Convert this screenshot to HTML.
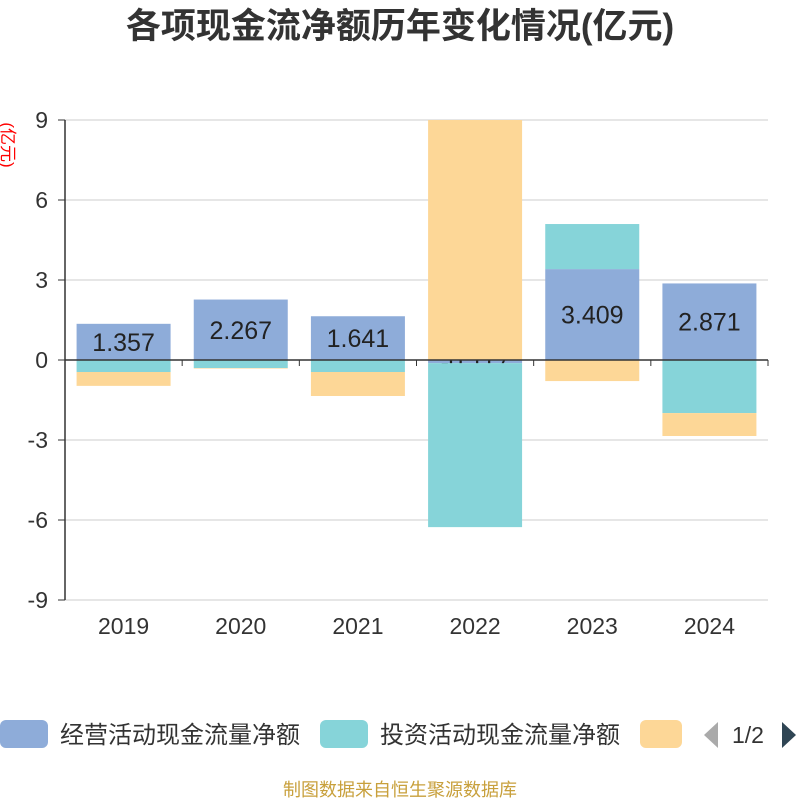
<!DOCTYPE html>
<html><head><meta charset="utf-8"><style>
body{margin:0;background:#fff;width:800px;height:800px;overflow:hidden;font-family:"Liberation Sans","Noto Sans CJK SC",sans-serif}
</style></head><body>
<svg id="c" width="800" height="800" xmlns="http://www.w3.org/2000/svg">
<text x="400" y="38" text-anchor="middle" font-size="35" font-weight="bold" fill="#333">各项现金流净额历年变化情况(亿元)</text>
<text transform="translate(2,145) rotate(90)" text-anchor="middle" font-size="17" fill="#f00">(亿元)</text>
<g id="grid"></g><g id="bars"></g><g id="axes"></g>
<g>
<rect x="0" y="720" width="48" height="28" rx="6" fill="#8eacd9"/>
<text x="60" y="743" font-size="24" fill="#333">经营活动现金流量净额</text>
<rect x="320" y="720" width="48" height="28" rx="6" fill="#86d4d9"/>
<text x="380" y="743" font-size="24" fill="#333">投资活动现金流量净额</text>
<rect x="640" y="720" width="42" height="28" rx="6" fill="#fdd797"/>
<polygon points="718,722 718,748 704,735" fill="#aaa"/>
<text x="732" y="743" font-size="23" fill="#333">1/2</text>
<polygon points="782,722 782,748 796,735" fill="#2f4554"/>
</g>
<text x="400" y="796" text-anchor="middle" font-size="18" fill="#c8a03c">制图数据来自恒生聚源数据库</text>
</svg>
<script>
const categories=["2019","2020","2021","2022","2023","2024"];
const operating=[1.357,2.267,1.641,-0.117,3.409,2.871];
const investing=[-0.45,-0.3,-0.45,-6.15,1.69,-1.99];
const financing=[-0.52,-0.02,-0.9,9.0,-0.79,-0.86];
const yTicks=[-9,-6,-3,0,3,6,9];
const NS="http://www.w3.org/2000/svg";
const L=65,R=768,T=120,B=600,bw=(R-L)/categories.length,barW=94;
const y=v=>360-v*(B-T)/18;
const xc=i=>L+bw*(i+0.5);
function mk(p,tag,a){const e=document.createElementNS(NS,tag);for(const k in a)e.setAttribute(k,a[k]);document.getElementById(p).appendChild(e);return e;}
yTicks.forEach(t=>{
 if(t!==0){const g=mk('grid','line',{x1:L,x2:R,y1:y(t),y2:y(t),stroke:'#ccc','stroke-width':1});
 
 }
 const tk=mk('axes','line',{x1:58,x2:L,y1:y(t),y2:y(t),stroke:'#333'});
 
 
 const tl=mk('axes','text',{x:48,y:y(t)+8,'text-anchor':'end','font-size':23,fill:'#333'});tl.textContent=t;
 
 
});
const ya=mk('axes','line',{x1:L,x2:L,y1:T,y2:B,stroke:'#333','stroke-width':1.5});


const xa=mk('axes','line',{x1:L,x2:R,y1:y(0),y2:y(0),stroke:'#333','stroke-width':1.5});


for(let i=0;i<=categories.length;i++){const t=mk('axes','line',{x1:L+bw*i,x2:L+bw*i,y1:y(0),y2:y(0)+6,stroke:'#333'});
 
 }
categories.forEach((c,i)=>{const t=mk('axes','text',{x:xc(i),y:634,'text-anchor':'middle','font-size':23,fill:'#333'});t.textContent=c;
 
 });
const series=[[operating,'#8eacd9','operating'],[investing,'#86d4d9','investing'],[financing,'#fdd797','financing']];
const pos=categories.map(()=>0),neg=categories.map(()=>0);
series.forEach(([vals,col,nm],si)=>{
 vals.forEach((v,i)=>{
  let a,b;if(v>=0){a=pos[i];b=pos[i]+v;pos[i]=b;}else{a=neg[i];b=neg[i]+v;neg[i]=b;}
  const r=mk('bars','rect',{x:xc(i)-barW/2,y:Math.min(y(a),y(b)),width:barW,height:Math.abs(y(a)-y(b)),fill:col});
  
  
  if(si===0){const t=mk('bars','text',{x:xc(i),y:(y(a)+y(b))/2+9,'text-anchor':'middle','font-size':25,fill:'#222'});t.textContent=v.toFixed(3);
   
   }
 });
});
</script>
</body></html>
